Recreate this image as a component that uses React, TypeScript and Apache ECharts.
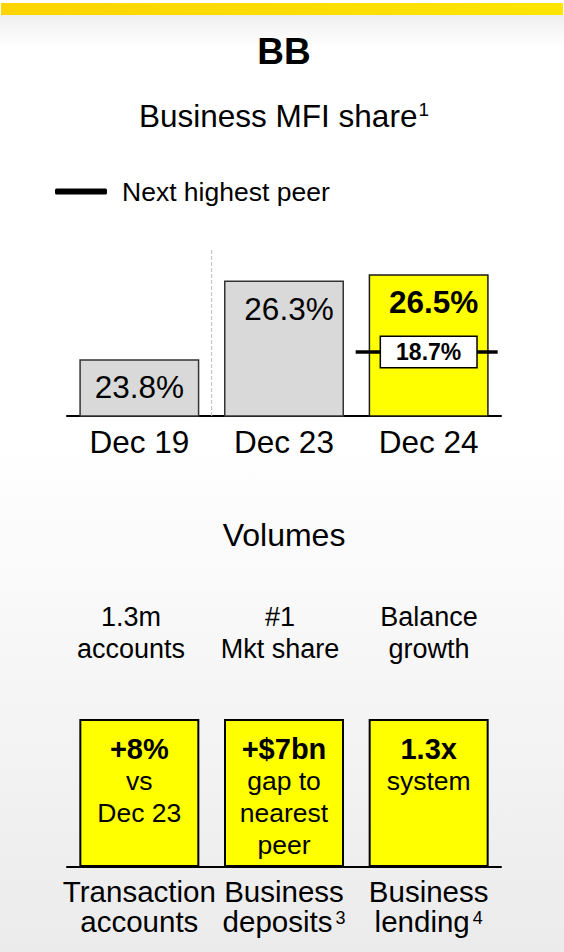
import React, { useEffect, useRef } from "react";
import * as echarts from "echarts";

const FONT = "'Liberation Sans', Arial, sans-serif";

const periods = ["Dec 19", "Dec 23", "Dec 24"];
const mfiShare = [23.8, 26.3, 26.5];
const peerShare = ["-", "-", 18.7];
const peerName = "Next highest peer";
const separatorAt = [[1, 22], [1, 27.27]];

const volumeHeaders = [["1.3m", "accounts"], ["#1", "Mkt share"], ["Balance", "growth"]];
const volumeHighlights = ["+8%", "+$7bn", "1.3x"];
const volumeNotes = [["vs", "Dec 23"], ["gap to", "nearest", "peer"], ["system"]];
const volumeCategories = [["Transaction", "accounts"], ["Business", "deposits"], ["Business", "lending"]];
const volumeFootnotes = ["", "3", "4"];
const volumeBoxes = [1, 1, 1];

const headerX = [131, 280, 429];

export default function App() {
  const ref = useRef<HTMLDivElement>(null);
  useEffect(() => {
    document.body.style.margin = "0";
    const chart = echarts.init(ref.current!, null, { renderer: "svg" });
    const option: any = {
      animation: false,
      textStyle: { fontFamily: FONT },
      graphic: [
        { type: "rect", z: -10, shape: { x: 0, y: 0, width: 564, height: 952 }, style: { fill: "#ffffff" } },
        {
          type: "rect", z: -9, shape: { x: 0, y: 15, width: 564, height: 32 },
          style: { fill: new echarts.graphic.LinearGradient(0, 0, 0, 1, [{ offset: 0, color: "#eeeeee" }, { offset: 1, color: "#ffffff" }]) },
        },
        {
          type: "rect", z: -9, shape: { x: 0, y: 440, width: 564, height: 512 },
          style: { fill: new echarts.graphic.LinearGradient(0, 0, 0, 1, [{ offset: 0, color: "#ffffff" }, { offset: 1, color: "#ebebeb" }]) },
        },
        {
          type: "rect", z: -8, shape: { x: 1, y: 3, width: 562, height: 12 },
          style: { fill: new echarts.graphic.LinearGradient(0, 0, 1, 0, [{ offset: 0, color: "#ffd400" }, { offset: 1, color: "#ffe500" }]) },
        },
        {
          type: "text", x: 284, y: 51,
          style: { text: "BB", fontFamily: FONT, fontSize: 37, fontWeight: "bold", fill: "#000", align: "center", verticalAlign: "middle" },
        },
        {
          type: "text", x: 284, y: 116,
          style: {
            text: "{m|Business MFI share}{s|1}",
            align: "center", verticalAlign: "middle",
            rich: {
              m: { fontFamily: FONT, fontSize: 31.5, fill: "#000", color: "#000" },
              s: { fontFamily: FONT, fontSize: 19, color: "#000", fill: "#000", padding: [0, 0, 14, 1] },
            },
          },
        },
        {
          type: "text", x: 284, y: 535,
          style: { text: "Volumes", fontFamily: FONT, fontSize: 32, fill: "#000", align: "center", verticalAlign: "middle" },
        },
        ...volumeHeaders.map((lines, i) => ({
          type: "text", x: headerX[i], y: 633,
          style: {
            text: lines.join("\n"), fontFamily: FONT, fontSize: 27, lineHeight: 32,
            fill: "#000", align: "center", verticalAlign: "middle",
          },
        })),
      ],
      legend: {
        left: 50, top: 173,
        data: [{ name: peerName, icon: "roundRect" }],
        itemWidth: 52, itemHeight: 6,
        itemStyle: { color: "#000", opacity: 1 },
        textStyle: { fontFamily: FONT, fontSize: 26.5, color: "#000", padding: [0, 0, 0, 10] },
        selectedMode: false,
      },
      grid: [
        { left: 67, width: 434, top: 250, height: 166 },
        { left: 67, width: 434, top: 719, height: 148 },
      ],
      xAxis: [
        {
          type: "category", gridIndex: 0, data: periods,
          axisLine: { lineStyle: { color: "#000", width: 2 } },
          axisTick: { show: false },
          axisLabel: { fontFamily: FONT, fontSize: 31.5, color: "#000", margin: 10 },
          splitLine: { show: false },
        },
        {
          type: "category", gridIndex: 1, data: volumeCategories.map((c) => c.join(" ")),
          axisLine: { lineStyle: { color: "#000", width: 2 } },
          axisTick: { show: false },
          axisLabel: {
            margin: 9,
            formatter: (_v: string, i: number) => {
              const c = volumeCategories[i];
              const f = volumeFootnotes[i];
              return `{t|${c[0]}}\n{t|${c[1]}}` + (f ? `{s|${f}}` : "");
            },
            rich: {
              t: { fontFamily: FONT, fontSize: 29.5, color: "#000", lineHeight: 30 },
              s: { fontFamily: FONT, fontSize: 18, color: "#000", lineHeight: 18, padding: [0, 0, 9, 3], verticalAlign: "bottom" },
            },
          },
        },
        { type: "value", gridIndex: 0, min: 0, max: 3, show: false },
      ],
      yAxis: [
        { type: "value", gridIndex: 0, min: 22, max: 27.27, show: false, splitLine: { show: false } },
        { type: "value", gridIndex: 0, min: 0, max: 48.5, show: false, splitLine: { show: false } },
        { type: "value", gridIndex: 1, min: 0, max: 1, show: false, splitLine: { show: false } },
      ],
      series: [
        {
          type: "line", xAxisIndex: 2, yAxisIndex: 0, data: separatorAt,
          symbol: "none", silent: true,
          lineStyle: { type: "dashed", color: "#bdbdbd", width: 1 },
          z: 1,
        },
        {
          type: "bar", xAxisIndex: 0, yAxisIndex: 0, barWidth: 120,
          data: mfiShare.map((v, i) => ({
            value: v,
            itemStyle: i === 2
              ? { color: "#ffff00", borderColor: "#1a1a1a", borderWidth: 1.5 }
              : { color: "#d9d9d9", borderColor: "#333333", borderWidth: 1.5 },
            label: { fontWeight: i === 2 ? "bold" : "normal", offset: i === 0 ? [0, 0] : [5, 0] },
          })),
          label: {
            show: true, position: "insideTop", distance: 12,
            fontFamily: FONT, fontSize: 31.5, color: "#000",
            formatter: (p: any) => `${Number(p.value).toFixed(1)}%`,
          },
          z: 2,
        },
        {
          type: "scatter", name: peerName, xAxisIndex: 0, yAxisIndex: 1,
          data: peerShare,
          symbol: "rect", symbolSize: [142, 3.5], symbolOffset: [-2, 0],
          itemStyle: { color: "#000", opacity: 1 },
          label: {
            show: true, position: "inside", offset: [2, 0],
            formatter: (p: any) => `${Number(p.value).toFixed(1)}%`,
            fontFamily: FONT, fontSize: 23, fontWeight: "bold", color: "#000",
            backgroundColor: "#ffffff", borderColor: "#000", borderWidth: 1.5,
            padding: [4, 15, 3, 15], opacity: 1,
          },
          emphasis: { disabled: true },
          z: 5,
        },
        {
          type: "bar", xAxisIndex: 1, yAxisIndex: 2, barWidth: 120,
          data: volumeBoxes,
          itemStyle: { color: "#ffff00", borderColor: "#000", borderWidth: 2 },
          label: {
            show: true, position: "insideTop", distance: 14,
            formatter: (p: any) => {
              const i = p.dataIndex;
              return [`{b|${volumeHighlights[i]}}`, ...volumeNotes[i].map((n) => `{n|${n}}`)].join("\n");
            },
            rich: {
              b: { fontFamily: FONT, fontSize: 29, fontWeight: "bold", color: "#000", lineHeight: 32 },
              n: { fontFamily: FONT, fontSize: 26.5, color: "#000", lineHeight: 32 },
            },
          },
        },
      ],
    };
    chart.setOption(option);
    return () => chart.dispose();
  }, []);
  return <div ref={ref} style={{ width: 564, height: 952 }} />;
}
